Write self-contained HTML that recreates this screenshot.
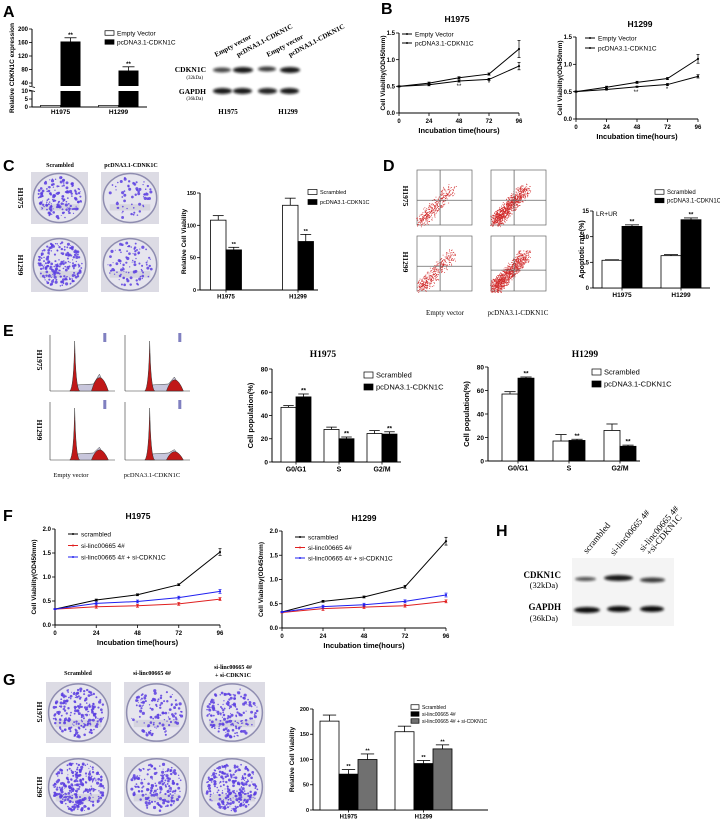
<!DOCTYPE html>
<html><head><meta charset="utf-8"><style>
html,body{margin:0;padding:0;background:#fff;}
svg{display:block;font-family:"Liberation Sans",Arial,sans-serif;}
.serif{font-family:"Liberation Serif",serif;}
</style></head><body>
<svg id="fig" width="720" height="824" viewBox="0 0 720 824" xmlns="http://www.w3.org/2000/svg">
<defs>
<filter id="blur1" x="-20%" y="-50%" width="140%" height="200%"><feGaussianBlur stdDeviation="1.4"/></filter>
<filter id="blur2" x="-20%" y="-20%" width="140%" height="140%"><feGaussianBlur stdDeviation="0.4"/></filter>
</defs>
</svg>
<script>
// ---------------- DATA ----------------
const aCats=['H1975','H1299'];
const aEmpty=[1,1];
const aCdkn=[163,77];
const aCdknErr=[11,11];
const aTicksUp=[40,80,120,160,200];
const aTicksLow=[0,5,10];

const bHours=[0,24,48,72,96];
const bXLabels=['0','24','48','72','96'];
const bYTicks=[0,0.5,1.0,1.5];
const bYLabels=['0.0','0.5','1.0','1.5'];
const b1Empty=[0.5,0.56,0.66,0.73,1.2];
const b1EmptyErr=[0.01,0.02,0.02,0.02,0.16];
const b1Cdkn=[0.5,0.53,0.6,0.63,0.88];
const b1CdknErr=[0.01,0.02,0.02,0.02,0.07];
const b2Empty=[0.5,0.58,0.67,0.74,1.1];
const b2EmptyErr=[0.01,0.02,0.02,0.02,0.08];
const b2Cdkn=[0.5,0.54,0.59,0.63,0.78];
const b2CdknErr=[0.01,0.01,0.01,0.02,0.03];

const cCats=['H1975','H1299'];
const cScr=[108,131];
const cScrErr=[7,11];
const cCdkn=[62,75];
const cCdknErr=[4,11];
const cTicks=[0,50,100,150];

const dCats=['H1975','H1299'];
const dScr=[5.4,6.3];
const dScrErr=[0.1,0.2];
const dCdkn=[12.0,13.3];
const dCdknErr=[0.3,0.35];
const dTicks=[0,5,10,15];

const eCats=['G0/G1','S','G2/M'];
const e1Scr=[47,28,24.5];
const e1ScrErr=[1.5,2,2.5];
const e1Cdkn=[56,20,24];
const e1CdknErr=[2.5,1.5,2];
const e2Scr=[57,17,26];
const e2ScrErr=[2,5.5,5.5];
const e2Cdkn=[70.5,17.5,12.5];
const e2CdknErr=[1,1,1];
const eTicks=[0,20,40,60,80];

const fHours=[0,24,48,72,96];
const fXLabels=['0','24','48','72','96'];
const fYTicks=[0,0.5,1.0,1.5,2.0];
const fYLabels=['0.0','0.5','1.0','1.5','2.0'];
const f1Scr=[0.33,0.52,0.63,0.84,1.52];
const f1ScrErr=[0.01,0.02,0.02,0.02,0.07];
const f1Si=[0.33,0.38,0.40,0.44,0.54];
const f1SiErr=[0.01,0.03,0.03,0.03,0.03];
const f1Both=[0.33,0.45,0.49,0.57,0.70];
const f1BothErr=[0.01,0.03,0.03,0.03,0.04];
const f2Scr=[0.33,0.55,0.64,0.85,1.79];
const f2ScrErr=[0.01,0.02,0.02,0.03,0.08];
const f2Si=[0.32,0.40,0.43,0.46,0.55];
const f2SiErr=[0.01,0.04,0.03,0.03,0.03];
const f2Both=[0.33,0.44,0.48,0.55,0.68];
const f2BothErr=[0.01,0.03,0.03,0.03,0.04];

const gCats=['H1975','H1299'];
const gScr=[176,155];
const gScrErr=[12,11];
const gSi=[71,92];
const gSiErr=[9,6];
const gBoth=[100,121];
const gBothErr=[11,8];
const gTicks=[0,50,100,150,200];

// ---------------- HELPERS ----------------
const NS='http://www.w3.org/2000/svg';
const svg=document.getElementById('fig');
function mk(tag,attrs,parent){const e=document.createElementNS(NS,tag);for(const k in attrs)e.setAttribute(k,attrs[k]);(parent||svg).appendChild(e);return e;}
function txt(s,x,y,attrs,parent){const e=mk('text',Object.assign({x:x,y:y},attrs||{}),parent);e.textContent=s;return e;}
function grp(name,parent){const g=mk('g',{},parent);


return g;}
let seed=12345;
function rnd(){seed=(seed*16807)%2147483647;return (seed-1)/2147483646;}

function panelLabel(s,x,y){const t=txt(s,x,y,{'font-size':16,'font-weight':'bold'});

}

function yAxis(g,x,yB,yT,vmax,ticks,labels,fs){
  const sc=v=>yB-v/vmax*(yB-yT);
  mk('line',{x1:x,y1:yT,x2:x,y2:yB,stroke:'#000','stroke-width':1},g);
  ticks.forEach((t,i)=>{const y=sc(t);mk('line',{x1:x-3,y1:y,x2:x,y2:y,stroke:'#000','stroke-width':0.8},g);
    txt(labels[i],x-4,y+fs*0.35,{'font-size':fs,'font-weight':'bold','text-anchor':'end'},g);});
  return sc;
}
function yTitle(g,s,x,y,fs){const t=txt(s,x,y,{'font-size':fs,'font-weight':'bold','text-anchor':'middle',transform:'rotate(-90 '+x+' '+y+')'},g);

}

function legend(g,x,y,dy,items,fs,bw,bh){
  items.forEach((it,i)=>{const yy=y+i*dy;
    const lg=mk('g',{},g);
    
    
    if(it.type==='line'){mk('line',{x1:x,y1:yy,x2:x+bw,y2:yy,stroke:it.color,'stroke-width':1},lg);
      mk('circle',{cx:x+bw/2,cy:yy,r:1,fill:it.color},lg);}
    else mk('rect',{x:x,y:yy-bh/2,width:bw,height:bh,fill:it.fill,stroke:'#000','stroke-width':0.7},lg);
    txt(it.label,x+bw+3,yy+fs*0.35,{'font-size':fs},lg);});
}

function barChart(c){
  const g=grp(c.name);
  mk('line',{x1:c.x0,y1:c.yB,x2:c.x1,y2:c.yB,stroke:'#000','stroke-width':1},g);
  const sc=yAxis(g,c.x0,c.yB,c.yT,c.vmax,c.ticks,c.ticks.map(String),c.fs);
  const ns=c.series.length;
  c.cats.forEach((cat,i)=>{const cx=c.c0+i*c.step;
    mk('line',{x1:cx,y1:c.yB,x2:cx,y2:c.yB+2.5,stroke:'#000','stroke-width':0.8},g);
    txt(cat,cx,c.yB+c.fs+3,{'font-size':c.fs+0.5,'font-weight':'bold','text-anchor':'middle'},g);
    c.series.forEach((s,k)=>{const x=cx+(k-ns/2)*c.bw;const v=s.vals[i],e=s.errs[i];
      const y=sc(v),ye=sc(v+e),m=x+c.bw/2;
      mk('line',{x1:m,y1:y,x2:m,y2:ye,stroke:'#000','stroke-width':0.8},g);
      mk('line',{x1:m-c.bw*0.35,y1:ye,x2:m+c.bw*0.35,y2:ye,stroke:'#000','stroke-width':0.8},g);
      const r=mk('rect',{x:x,y:y,width:c.bw,height:c.yB-y,fill:s.fill,stroke:'#000','stroke-width':0.8},g);
      
      
      if(s.stars&&s.stars[i])txt(s.stars[i],m,ye-1.5,{'font-size':c.fs,'text-anchor':'middle','font-weight':'bold'},g);
    });});
  yTitle(g,c.ytitle,c.ytx,(c.yB+c.yT)/2,c.fs+1);
  legend(g,c.lx,c.ly,c.ldy,c.series.map(s=>({type:'box',fill:s.fill,label:s.label})),c.lfs,c.lbw,c.lbh);
  return g;
}

function lineChart(c){
  const g=grp(c.name);
  const sx=h=>c.x0+h/96*(c.x1-c.x0);
  mk('line',{x1:c.x0,y1:c.yB,x2:c.x1,y2:c.yB,stroke:'#000','stroke-width':1},g);
  const sc=yAxis(g,c.x0,c.yB,c.yT,c.vmax,c.yticks,c.ylabels,c.fs);
  c.hours.forEach((h,i)=>{const x=sx(h);mk('line',{x1:x,y1:c.yB,x2:x,y2:c.yB+3,stroke:'#000','stroke-width':0.8},g);
    txt(c.xlabels[i],x,c.yB+c.fs+4,{'font-size':c.fs,'font-weight':'bold','text-anchor':'middle'},g);});
  c.series.forEach(s=>{
    const pts=c.hours.map((h,i)=>sx(h)+','+sc(s.vals[i])).join(' ');
    const pl=mk('polyline',{points:pts,fill:'none',stroke:s.color,'stroke-width':1},g);
    
    
    c.hours.forEach((h,i)=>{const x=sx(h),y=sc(s.vals[i]),e=s.errs[i];
      mk('circle',{cx:x,cy:y,r:1.1,fill:s.color},g);
      mk('line',{x1:x,y1:sc(s.vals[i]-e),x2:x,y2:sc(s.vals[i]+e),stroke:s.color,'stroke-width':0.7},g);
      mk('line',{x1:x-1.5,y1:sc(s.vals[i]+e),x2:x+1.5,y2:sc(s.vals[i]+e),stroke:s.color,'stroke-width':0.7},g);
      mk('line',{x1:x-1.5,y1:sc(s.vals[i]-e),x2:x+1.5,y2:sc(s.vals[i]-e),stroke:s.color,'stroke-width':0.7},g);});
  });
  const tt=txt(c.title,c.tx,c.ty,{'font-size':c.fs+2.5,'font-weight':'bold','text-anchor':'middle'},g);
  
  
  txt('Incubation time(hours)',(c.x0+c.x1)/2,c.yB+c.fs*2+8,{'font-size':c.fs+1.5,'font-weight':'bold','text-anchor':'middle'},g);
  yTitle(g,'Cell Viability(OD450mm)',c.ytx,(c.yB+c.yT)/2,c.fs+0.5);
  legend(g,c.lx,c.ly,c.ldy,c.series.map(s=>({type:'line',color:s.color,label:s.label})),c.lfs,10,0);
  return g;
}

function plate(x,y,w,h,n,name){
  const g=grp(name);
  mk('rect',{x:x,y:y,width:w,height:h,fill:'#dcdbe4'},g);
  mk('ellipse',{cx:x+w/2,cy:y+h/2,rx:w*0.46,ry:h*0.47,fill:'#e6e5ee',stroke:'#8f8db0','stroke-width':1.5},g);
  mk('rect',{x:x+w*0.15,y:y+h*0.62,width:w*0.7,height:h*0.12,fill:'#c9c8d6',opacity:0.6},g);
  for(let i=0;i<n;i++){const a=rnd()*Math.PI*2,r=Math.sqrt(rnd())*0.9;
    mk('circle',{cx:x+w/2+Math.cos(a)*r*w*0.44,cy:y+h/2+Math.sin(a)*r*h*0.45,r:0.5+rnd()*1.1,fill:'#5b3ee0',opacity:0.85},g);}
}
function flow(x,y,s,n,hy,name){
  const g=grp(name);
  mk('rect',{x:x,y:y,width:s,height:s,fill:'#fff',stroke:'#666','stroke-width':0.7},g);
  for(let i=0;i<n;i++){const t=Math.pow(rnd(),1.4);
    const px=x+s*(0.08+0.55*t+(rnd()-0.5)*0.2),py=y+s*(0.93-0.6*t+(rnd()-0.5)*0.2);
    mk('rect',{x:px,y:py,width:0.8,height:0.8,fill:'#d02828'},g);}
  mk('line',{x1:x+s*0.42,y1:y,x2:x+s*0.42,y2:y+s,stroke:'#666','stroke-width':0.8},g);
  mk('line',{x1:x,y1:y+s*hy,x2:x+s,y2:y+s*hy,stroke:'#666','stroke-width':0.8},g);
}
function hist(x,y,w,h,g2,name){
  const g=grp(name);
  const b=y+h;
  mk('line',{x1:x,y1:y,x2:x,y2:b,stroke:'#333','stroke-width':0.6},g);
  mk('line',{x1:x,y1:b,x2:x+w,y2:b,stroke:'#333','stroke-width':0.6},g);
  const p1=x+w*0.38,p2=x+w*0.76;
  mk('path',{d:`M${p1+2} ${b-6} L${p2-6} ${b-7} L${p2} ${b-h*g2} L${p2+8} ${b} L${p1} ${b} Z`,fill:'#c8c6dc',stroke:'#444','stroke-width':0.5},g);
  mk('path',{d:`M${p1-5} ${b} Q${p1-1} ${b-2} ${p1} ${y+6} Q${p1+1} ${b-2} ${p1+5} ${b} Z`,fill:'#c01818',stroke:'#333','stroke-width':0.5},g);
  mk('path',{d:`M${p2-8} ${b} Q${p2} ${b-h*g2*1.6} ${p2+9} ${b} Z`,fill:'#c01818',stroke:'#333','stroke-width':0.5},g);
  mk('rect',{x:x+w*0.82,y:y-2,width:3,height:9,fill:'#8080c0'},g);
}
function band(g,x,y,w,h,op){mk('ellipse',{cx:x+w/2,cy:y,rx:w/2,ry:h/2,fill:'#111',opacity:op,filter:'url(#blur1)'},g);}
function rowLabel(s,x,y,fs){const t=txt(s,x,y,{'font-size':fs,'font-weight':'bold','text-anchor':'middle',class:'serif',transform:'rotate(90 '+x+' '+y+')'});

}
function stxt(s,x,y,fs,extra){const t=txt(s,x,y,Object.assign({'font-size':fs,class:'serif','font-weight':'bold','text-anchor':'middle'},extra||{}));return t;}

// ---------------- PANEL A ----------------
panelLabel('A',3,17);
(function(){
  const g=grp('panel-a-bar-chart');
  const x0=32,x1=147,yB=107,lowT=91,upB=86,upLow=83,upT=29;
  const sLow=v=>yB-v/10*(yB-lowT);
  const sUp=v=>upLow-(v-40)/160*(upLow-upT);
  mk('line',{x1:x0,y1:yB,x2:x1,y2:yB,stroke:'#000','stroke-width':1},g);
  mk('line',{x1:x0,y1:lowT,x2:x0,y2:yB,stroke:'#000','stroke-width':1},g);
  mk('line',{x1:x0,y1:upT,x2:x0,y2:upB,stroke:'#000','stroke-width':1},g);
  mk('line',{x1:x0-3,y1:upB,x2:x0+3,y2:upB+1.5,stroke:'#000','stroke-width':0.8},g);
  mk('line',{x1:x0-3,y1:lowT-1,x2:x0+3,y2:lowT+0.5,stroke:'#000','stroke-width':0.8},g);
  aTicksUp.forEach(t=>{const y=sUp(t);mk('line',{x1:x0-3,y1:y,x2:x0,y2:y,stroke:'#000','stroke-width':0.8},g);
    txt(String(t),x0-4,y+2,{'font-size':6,'font-weight':'bold','text-anchor':'end'},g);});
  aTicksLow.forEach(t=>{const y=sLow(t);mk('line',{x1:x0-3,y1:y,x2:x0,y2:y,stroke:'#000','stroke-width':0.8},g);
    txt(String(t),x0-4,y+2,{'font-size':6,'font-weight':'bold','text-anchor':'end'},g);});
  const bw=20,c0=60.5,step=58;
  aCats.forEach((cat,i)=>{const cx=c0+i*step;
    txt(cat,cx,yB+7,{'font-size':6.5,'font-weight':'bold','text-anchor':'middle'},g);
    const we=mk('rect',{x:cx-bw,y:sLow(aEmpty[i]),width:bw,height:yB-sLow(aEmpty[i]),fill:'#fff',stroke:'#000','stroke-width':0.7},g);
    
    
    const v=aCdkn[i],e=aCdknErr[i],m=cx+bw/2;
    const bl=mk('rect',{x:cx,y:lowT,width:bw,height:yB-lowT,fill:'#000'},g);
    
    
    mk('line',{x1:m,y1:sUp(v),x2:m,y2:sUp(v+e),stroke:'#000','stroke-width':0.8},g);
    mk('line',{x1:m-6,y1:sUp(v+e),x2:m+6,y2:sUp(v+e),stroke:'#000','stroke-width':0.8},g);
    const bu=mk('rect',{x:cx,y:sUp(v),width:bw,height:upB-sUp(v),fill:'#000'},g);
    
    
    txt('**',m,sUp(v+e)-1,{'font-size':6,'text-anchor':'middle','font-weight':'bold'},g);
  });
  yTitle(g,'Relative CDKN1C expression',14,68,6.5);
  legend(g,105,33,9,[{type:'box',fill:'#fff',label:'Empty Vector'},{type:'box',fill:'#000',label:'pcDNA3.1-CDKN1C'}],6.5,9,4.5);
})();
(function(){
  const g=grp('panel-a-western-blot');
  [['Empty vector',216],['pcDNA3.1-CDKN1C',238],['Empty vector',268],['pcDNA3.1-CDKN1C',290]].forEach(p=>{
    txt(p[0],p[1],57,{'font-size':7,class:'serif','font-weight':'bold',transform:'rotate(-28 '+p[1]+' 57)'},g);});
  txt('CDKN1C',206,72,{'font-size':7.5,class:'serif','font-weight':'bold','text-anchor':'end'},g);
  txt('(32kDa)',203,79,{'font-size':5,class:'serif','text-anchor':'end'},g);
  txt('GAPDH',206,94,{'font-size':7.5,class:'serif','font-weight':'bold','text-anchor':'end'},g);
  txt('(36kDa)',203,100,{'font-size':5,class:'serif','text-anchor':'end'},g);
  band(g,213,70,18,5,0.75);band(g,233,70,20,6,0.95);band(g,258,69,18,5,0.8);band(g,280,70,20,6,0.95);
  band(g,213,91,19,6,0.95);band(g,233,91,19,6,0.95);band(g,258,91,19,6,0.9);band(g,280,91,19,6,0.95);
  txt('H1975',228,114,{'font-size':7,class:'serif','font-weight':'bold','text-anchor':'middle'},g);
  txt('H1299',288,114,{'font-size':7,class:'serif','font-weight':'bold','text-anchor':'middle'},g);
})();

// ---------------- PANEL B ----------------
panelLabel('B',381,14);
lineChart({name:'panel-b-h1975-chart',title:'H1975',tx:457,ty:22,x0:399,x1:519,yB:113,yT:33,vmax:1.5,hours:bHours,xlabels:bXLabels,yticks:bYTicks,ylabels:bYLabels,fs:6,ytx:385,lx:402,ly:34,ldy:9,lfs:6.5,
  series:[{key:'empty-vector',label:'Empty Vector',color:'#000',vals:b1Empty,errs:b1EmptyErr},{key:'pcdna-cdkn1c',label:'pcDNA3.1-CDKN1C',color:'#000',vals:b1Cdkn,errs:b1CdknErr}]});
lineChart({name:'panel-b-h1299-chart',title:'H1299',tx:640,ty:27,x0:576,x1:698,yB:119,yT:37,vmax:1.5,hours:bHours,xlabels:bXLabels,yticks:bYTicks,ylabels:bYLabels,fs:6,ytx:562,lx:585,ly:38,ldy:10,lfs:6.5,
  series:[{key:'empty-vector',label:'Empty Vector',color:'#000',vals:b2Empty,errs:b2EmptyErr},{key:'pcdna-cdkn1c',label:'pcDNA3.1-CDKN1C',color:'#000',vals:b2Cdkn,errs:b2CdknErr}]});
txt('**',459,88,{'font-size':6,'text-anchor':'middle'});txt('*',489,85,{'font-size':6,'text-anchor':'middle'});
txt('**',636,94,{'font-size':6,'text-anchor':'middle'});txt('*',667,91,{'font-size':6,'text-anchor':'middle'});

// ---------------- PANEL C ----------------
panelLabel('C',3,171);
stxt('Scrambled',60,167,6);stxt('pcDNA3.1-CDNK1C',131,167,6);
rowLabel('H1975',18,198,7.5);rowLabel('H1299',18,265,7.5);
plate(31,172,57,52,160,'colony-plate-scrambled-h1975');
plate(101,172,58,52,60,'colony-plate-cdkn1c-h1975');
plate(31,237,57,55,200,'colony-plate-scrambled-h1299');
plate(101,237,58,55,90,'colony-plate-cdkn1c-h1299');
barChart({name:'panel-c-bar-chart',x0:200,x1:318,yB:290,yT:193,vmax:150,ticks:cTicks,cats:cCats,c0:226,step:72,bw:15.5,fs:5.5,ytitle:'Relative Cell Viability',ytx:186,lx:308,ly:192,ldy:10,lfs:5.5,lbw:9,lbh:5,
  series:[{key:'scrambled',label:'Scrambled',fill:'#fff',vals:cScr,errs:cScrErr},{key:'pcdna-cdkn1c',label:'pcDNA3.1-CDKN1C',fill:'#000',vals:cCdkn,errs:cCdknErr,stars:['**','**']}]});

// ---------------- PANEL D ----------------
panelLabel('D',383,171);
rowLabel('H1975',403,196,7.5);rowLabel('H1299',403,262,7.5);
flow(417,170,55,350,0.55,'flow-plot-empty-h1975');
flow(491,170,55,900,0.55,'flow-plot-cdkn1c-h1975');
flow(417,236,55,380,0.55,'flow-plot-empty-h1299');
flow(491,236,55,1000,0.62,'flow-plot-cdkn1c-h1299');
stxt('Empty vector',445,315,7,{'font-weight':'normal'});stxt('pcDNA3.1-CDKN1C',518,315,7,{'font-weight':'normal'});
barChart({name:'panel-d-bar-chart',x0:593,x1:710,yB:288,yT:211,vmax:15,ticks:dTicks,cats:dCats,c0:622,step:59,bw:20,fs:6,ytitle:'Apoptotic rate(%)',ytx:584,lx:655,ly:192,ldy:8.5,lfs:6,lbw:9,lbh:4.5,
  series:[{key:'scrambled',label:'Scrambled',fill:'#fff',vals:dScr,errs:dScrErr},{key:'pcdna-cdkn1c',label:'pcDNA3.1-CDKN1C',fill:'#000',vals:dCdkn,errs:dCdknErr,stars:['**','**']}]});
txt('LR+UR',596,216,{'font-size':6.5});

// ---------------- PANEL E ----------------
panelLabel('E',3,336);
rowLabel('H1975',37,360,7.5);rowLabel('H1299',37,430,7.5);
hist(50,335,65,56,0.3,'cell-cycle-histogram-empty-h1975');
hist(125,335,65,56,0.25,'cell-cycle-histogram-cdkn1c-h1975');
hist(50,402,65,58,0.22,'cell-cycle-histogram-empty-h1299');
hist(125,402,65,58,0.18,'cell-cycle-histogram-cdkn1c-h1299');
stxt('Empty vector',71,477,6.5,{'font-weight':'normal'});stxt('pcDNA3.1-CDKN1C',152,477,6.5,{'font-weight':'normal'});
stxt('H1975',323,357,9.5);stxt('H1299',585,357,9.5);
barChart({name:'panel-e-h1975-chart',x0:272,x1:401,yB:462,yT:369,vmax:80,ticks:eTicks,cats:eCats,c0:296,step:43,bw:15,fs:6.5,ytitle:'Cell population(%)',ytx:253,lx:364,ly:375,ldy:12,lfs:7.5,lbw:9,lbh:6,
  series:[{key:'scrambled',label:'Scrambled',fill:'#fff',vals:e1Scr,errs:e1ScrErr},{key:'pcdna-cdkn1c',label:'pcDNA3.1-CDKN1C',fill:'#000',vals:e1Cdkn,errs:e1CdknErr,stars:['**','**','**']}]});
barChart({name:'panel-e-h1299-chart',x0:488,x1:640,yB:461,yT:367,vmax:80,ticks:eTicks,cats:eCats,c0:518,step:51,bw:16,fs:6.5,ytitle:'Cell population(%)',ytx:469,lx:592,ly:372,ldy:12,lfs:7.5,lbw:9,lbh:6,
  series:[{key:'scrambled',label:'Scrambled',fill:'#fff',vals:e2Scr,errs:e2ScrErr},{key:'pcdna-cdkn1c',label:'pcDNA3.1-CDKN1C',fill:'#000',vals:e2Cdkn,errs:e2CdknErr,stars:['**','**','**']}]});

// ---------------- PANEL F ----------------
panelLabel('F',3,521);
lineChart({name:'panel-f-h1975-chart',title:'H1975',tx:138,ty:519,x0:55,x1:220,yB:625,yT:529,vmax:2,hours:fHours,xlabels:fXLabels,yticks:fYTicks,ylabels:fYLabels,fs:6,ytx:36,lx:68,ly:534,ldy:11.5,lfs:6.5,
  series:[{key:'scrambled',label:'scrambled',color:'#000',vals:f1Scr,errs:f1ScrErr},{key:'si-linc00665',label:'si-linc00665 4#',color:'#e02020',vals:f1Si,errs:f1SiErr},{key:'si-linc00665-si-cdkn1c',label:'si-linc00665 4# + si-CDKN1C',color:'#2020f0',vals:f1Both,errs:f1BothErr}]});
lineChart({name:'panel-f-h1299-chart',title:'H1299',tx:364,ty:521,x0:282,x1:446,yB:628,yT:531,vmax:2,hours:fHours,xlabels:fXLabels,yticks:fYTicks,ylabels:fYLabels,fs:6,ytx:263,lx:295,ly:537,ldy:10.5,lfs:6.5,
  series:[{key:'scrambled',label:'scrambled',color:'#000',vals:f2Scr,errs:f2ScrErr},{key:'si-linc00665',label:'si-linc00665 4#',color:'#e02020',vals:f2Si,errs:f2SiErr},{key:'si-linc00665-si-cdkn1c',label:'si-linc00665 4# + si-CDKN1C',color:'#2020f0',vals:f2Both,errs:f2BothErr}]});

// ---------------- PANEL H ----------------
panelLabel('H',496,536);
(function(){
  const g=grp('panel-h-western-blot');
  mk('rect',{x:572,y:558,width:102,height:68,fill:'#f4f4f4'},g);
  [['scrambled',587,554],['si-linc00665 4#',614,556]].forEach(p=>{
    txt(p[0],p[1],p[2],{'font-size':9,class:'serif',transform:'rotate(-50 '+p[1]+' '+p[2]+')'},g);});
  txt('si-linc00665 4#',643,552,{'font-size':9,class:'serif',transform:'rotate(-50 643 552)'},g);
  txt('+si-CDKN1C',650,556,{'font-size':9,class:'serif',transform:'rotate(-50 650 556)'},g);
  txt('CDKN1C',561,578,{'font-size':9,class:'serif','font-weight':'bold','text-anchor':'end'},g);
  txt('(32kDa)',558,588,{'font-size':8.5,class:'serif','text-anchor':'end'},g);
  txt('GAPDH',561,610,{'font-size':9,class:'serif','font-weight':'bold','text-anchor':'end'},g);
  txt('(36kDa)',558,621,{'font-size':8.5,class:'serif','text-anchor':'end'},g);
  band(g,575,579,21,4,0.7);band(g,604,578,29,6,0.95);band(g,640,580,25,5,0.8);
  band(g,574,610,26,6,1);band(g,607,609,24,6,1);band(g,640,609,24,6,1);
})();

// ---------------- PANEL G ----------------
panelLabel('G',3,685);
stxt('Scrambled',78,675,6);stxt('si-linc00665 4#',152,675,6);
stxt('si-linc00665 4#',233,669,6);stxt('+ si-CDKN1C',233,677,6);
rowLabel('H1975',37,712,7.5);rowLabel('H1299',37,787,7.5);
plate(46,682,65,61,220,'colony-plate-scrambled-h1975-g');
plate(124,682,65,61,120,'colony-plate-si-h1975-g');
plate(199,682,66,61,170,'colony-plate-si-cdkn1c-h1975-g');
plate(46,757,65,60,280,'colony-plate-scrambled-h1299-g');
plate(124,757,65,60,170,'colony-plate-si-h1299-g');
plate(199,757,66,60,260,'colony-plate-si-cdkn1c-h1299-g');
barChart({name:'panel-g-bar-chart',x0:313,x1:488,yB:810,yT:709,vmax:200,ticks:gTicks,cats:gCats,c0:348.5,step:75,bw:19,fs:5.5,ytitle:'Relative Cell Viability',ytx:294,lx:411,ly:707,ldy:7,lfs:5,lbw:8,lbh:4.5,
  series:[{key:'scrambled',label:'Scrambled',fill:'#fff',vals:gScr,errs:gScrErr},{key:'si-linc00665',label:'si-linc00665 4#',fill:'#000',vals:gSi,errs:gSiErr,stars:['**','**']},{key:'si-linc00665-si-cdkn1c',label:'si-linc00665 4# + si-CDKN1C',fill:'#707070',vals:gBoth,errs:gBothErr,stars:['**','**']}]});
</script>
</body></html>
